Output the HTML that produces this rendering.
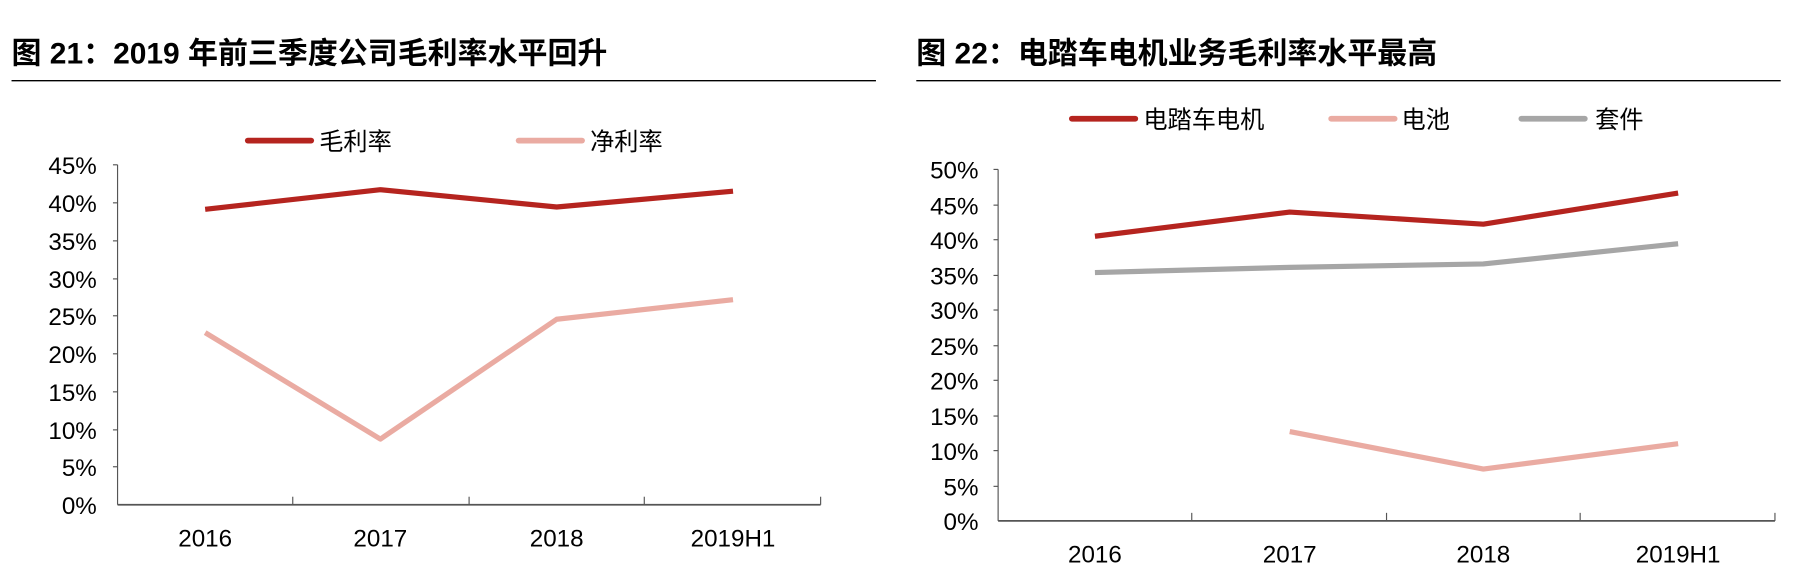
<!DOCTYPE html>
<html><head><meta charset="utf-8"><style>
html,body{margin:0;padding:0;background:#fff}
svg{display:block}
text{font-family:"Liberation Sans","Noto Sans CJK SC",sans-serif;fill:#000}
</style></head><body>
<svg width="1798" height="582" viewBox="0 0 1560 505" preserveAspectRatio="none">
<!-- Left chart -->
<text x="10" y="55" font-size="26" font-weight="bold">图 21：2019 年前三季度公司毛利率水平回升</text>
<line x1="10" y1="70" x2="760" y2="70" stroke="#000" stroke-width="1.2"/>
<line x1="215" y1="122" x2="270" y2="122" stroke="#b5241f" stroke-width="5" stroke-linecap="round"/>
<text x="277" y="130" font-size="21">毛利率</text>
<line x1="450" y1="122" x2="505" y2="122" stroke="#eaaba2" stroke-width="5" stroke-linecap="round"/>
<text x="512" y="130" font-size="21">净利率</text>
<g font-size="21" text-anchor="end">
<text x="84" y="151">45%</text><text x="84" y="184">40%</text><text x="84" y="217">35%</text><text x="84" y="250">30%</text><text x="84" y="282">25%</text><text x="84" y="315">20%</text><text x="84" y="348">15%</text><text x="84" y="381">10%</text><text x="84" y="413">5%</text><text x="84" y="446">0%</text>
</g>
<g stroke="#555" stroke-width="1">
<line x1="102" y1="143" x2="102" y2="438"/>
<line x1="102" y1="438" x2="712" y2="438" stroke-width="1.5"/>
<line x1="98" y1="143" x2="102" y2="143"/><line x1="98" y1="176" x2="102" y2="176"/><line x1="98" y1="209" x2="102" y2="209"/><line x1="98" y1="242" x2="102" y2="242"/><line x1="98" y1="274" x2="102" y2="274"/><line x1="98" y1="307" x2="102" y2="307"/><line x1="98" y1="340" x2="102" y2="340"/><line x1="98" y1="373" x2="102" y2="373"/><line x1="98" y1="405" x2="102" y2="405"/>
<line x1="254" y1="431" x2="254" y2="438"/><line x1="407" y1="431" x2="407" y2="438"/><line x1="559" y1="431" x2="559" y2="438"/><line x1="712" y1="431" x2="712" y2="438"/>
</g>
<g font-size="21" text-anchor="middle">
<text x="178" y="474">2016</text><text x="330" y="474">2017</text><text x="483" y="474">2018</text><text x="636" y="474">2019H1</text>
</g>
<polyline points="178,181.6 330,164.6 483,179.6 636,165.9" fill="none" stroke="#b5241f" stroke-width="4.5" stroke-linejoin="round"/>
<polyline points="178,288.6 330,381 483,277 636,260" fill="none" stroke="#eaaba2" stroke-width="4.5" stroke-linejoin="round"/>

<!-- Right chart -->
<text x="795" y="55" font-size="26" font-weight="bold">图 22：电踏车电机业务毛利率水平最高</text>
<line x1="795" y1="70" x2="1545" y2="70" stroke="#000" stroke-width="1.2"/>
<line x1="930" y1="103" x2="985" y2="103" stroke="#b5241f" stroke-width="5" stroke-linecap="round"/>
<text x="992" y="111" font-size="21">电踏车电机</text>
<line x1="1155" y1="103" x2="1210" y2="103" stroke="#eaaba2" stroke-width="5" stroke-linecap="round"/>
<text x="1216" y="111" font-size="21">电池</text>
<line x1="1320" y1="103" x2="1375" y2="103" stroke="#a6a6a6" stroke-width="5" stroke-linecap="round"/>
<text x="1384" y="111" font-size="21">套件</text>
<g font-size="21" text-anchor="end">
<text x="849" y="155">50%</text><text x="849" y="186">45%</text><text x="849" y="216">40%</text><text x="849" y="247">35%</text><text x="849" y="277">30%</text><text x="849" y="308">25%</text><text x="849" y="338">20%</text><text x="849" y="369">15%</text><text x="849" y="399">10%</text><text x="849" y="430">5%</text><text x="849" y="460">0%</text>
</g>
<g stroke="#555" stroke-width="1">
<line x1="866" y1="147" x2="866" y2="452"/>
<line x1="866" y1="452" x2="1540" y2="452" stroke-width="1.5"/>
<line x1="862" y1="147" x2="866" y2="147"/><line x1="862" y1="178" x2="866" y2="178"/><line x1="862" y1="208" x2="866" y2="208"/><line x1="862" y1="239" x2="866" y2="239"/><line x1="862" y1="269" x2="866" y2="269"/><line x1="862" y1="300" x2="866" y2="300"/><line x1="862" y1="330" x2="866" y2="330"/><line x1="862" y1="361" x2="866" y2="361"/><line x1="862" y1="391" x2="866" y2="391"/><line x1="862" y1="422" x2="866" y2="422"/>
<line x1="1034" y1="445" x2="1034" y2="452"/><line x1="1203" y1="445" x2="1203" y2="452"/><line x1="1371" y1="445" x2="1371" y2="452"/><line x1="1540" y1="445" x2="1540" y2="452"/>
</g>
<g font-size="21" text-anchor="middle">
<text x="950" y="488">2016</text><text x="1119" y="488">2017</text><text x="1287" y="488">2018</text><text x="1456" y="488">2019H1</text>
</g>
<polyline points="950,205 1119,184 1287,194.5 1456,167.5" fill="none" stroke="#b5241f" stroke-width="4.5" stroke-linejoin="round"/>
<polyline points="950,236.5 1119,232 1287,229 1456,211.5" fill="none" stroke="#a6a6a6" stroke-width="4.5" stroke-linejoin="round"/>
<polyline points="1119,374.5 1287,407 1456,385" fill="none" stroke="#eaaba2" stroke-width="4.5" stroke-linejoin="round"/>
</svg>
</body></html>
